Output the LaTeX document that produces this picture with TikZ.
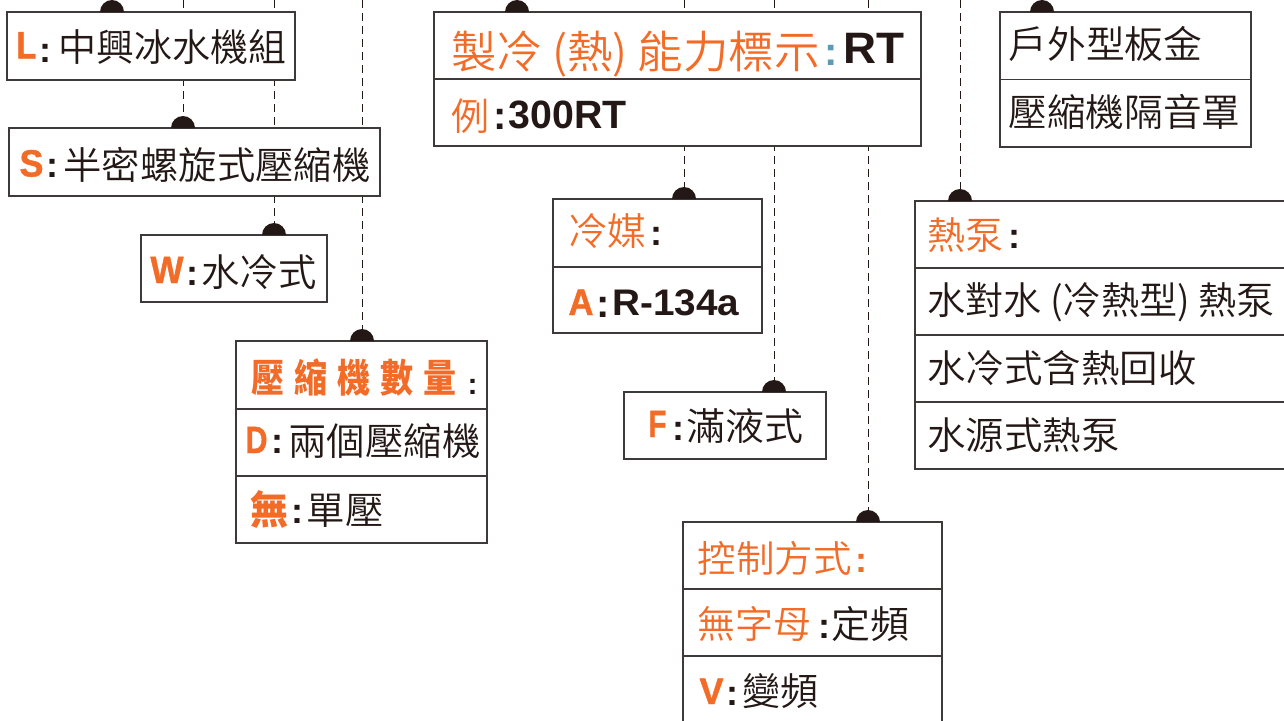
\documentclass[tikz,border=0pt]{standalone}
\usepackage{fontspec}
\usepackage{graphicx}
\usetikzlibrary{backgrounds}
\newfontfamily\cjk{Noto Sans CJK TC DemiLight}
\newfontfamily\cjkb{Noto Sans CJK TC Black}
\newfontfamily\lat{Liberation Sans}
\newfontfamily\latH{Liberation Sans Bold}[FakeBold=1.2]
\definecolor{og}{HTML}{F26B27}
\definecolor{tk}{HTML}{231815}
\definecolor{bc}{HTML}{3E3A39}
\definecolor{bl}{HTML}{5E9AB5}
\newcommand\cjkL[1]{\cjk\fontsize{#1}{#1}\selectfont}
\newcommand\cjkB[1]{\cjkb\fontsize{#1}{#1}\selectfont}
\newcommand\latB[1]{\lat\bfseries\fontsize{#1}{#1}\selectfont}
\newcommand\latK[1]{\latH\fontsize{#1}{#1}\selectfont}
% name, x1, x2, baseline, font, colour, text
\newcommand\tx[7]{%
  \pgfmathsetmacro\twid{#3-#2+3}%
  \node[anchor=base west, inner sep=0pt, outer sep=0pt, text=#6, font=#5] (#1) at (#2-1.5,#4) {\resizebox{\twid pt}{\height}{#7}};}
% name, centre x, baseline, colour, size
\newcommand\cl[5]{%
  \node[anchor=base, inner sep=0pt, outer sep=0pt, text=#4, font=\latB{#5}] (#1) at (#2,#3) {:};}
\newcommand\bch[1]{\makebox[43pt][l]{\resizebox{33pt}{\height}{#1}}}
\tikzset{
  box/.style={draw=bc, fill=white, line width=1.2pt, inner sep=0pt, outer sep=0pt},
  row/.style={draw=bc, line width=1.2pt},
  conn/.style={draw=tk, line width=1pt, dash pattern=on 8pt off 5pt},
  dotc/.style={fill=tk}
}
\newcommand\dotat[1]{\fill[dotc] (#1) ++(-12,0) arc[start angle=180, end angle=360, radius=12] -- cycle;}
\begin{document}
\begin{tikzpicture}[x=1pt,y=-1pt]
\useasboundingbox (0,0) rectangle (1284,720);
% boxes
\node[box, minimum width=288pt, minimum height=68pt] (bL) at (151,46) {};
\node[box, minimum width=371pt, minimum height=68pt] (bS) at (194.5,162) {};
\node[box, minimum width=186pt, minimum height=67pt] (bW) at (234,268.5) {};
\node[box, minimum width=251pt, minimum height=202pt] (bQ) at (361.5,442) {};
\node[box, minimum width=487pt, minimum height=134pt] (bR) at (677.5,79) {};
\node[box, minimum width=209pt, minimum height=134pt] (bM) at (657.5,266) {};
\node[box, minimum width=202pt, minimum height=67pt] (bF) at (725,425.5) {};
\node[box, minimum width=259pt, minimum height=202pt] (bC) at (812.5,623) {};
\node[box, minimum width=251pt, minimum height=135pt] (bO) at (1125.5,79.5) {};
\node[box, minimum width=377pt, minimum height=268pt] (bH) at (1103.5,335) {};
% row dividers
\draw[row] (bQ.west |- 0,409) -- (bQ.east |- 0,409);
\draw[row] (bQ.west |- 0,476) -- (bQ.east |- 0,476);
\draw[row] (bR.west) -- (bR.east);
\draw[row] (bM.west |- 0,267) -- (bM.east |- 0,267);
\draw[row] (bC.west |- 0,589) -- (bC.east |- 0,589);
\draw[row] (bC.west |- 0,656) -- (bC.east |- 0,656);
\draw[row] (bO.west) -- (bO.east);
\draw[row] (bH.west |- 0,268) -- (bH.east |- 0,268);
\draw[row] (bH.west) -- (bH.east);
\draw[row] (bH.west |- 0,402) -- (bH.east |- 0,402);
% connector top ends
\coordinate (uL) at (112,0);
\coordinate (uR) at (517,0);
\coordinate (uO) at (1042,0);
\coordinate (uS) at (183,0);
\coordinate (uW) at (274,0);
\coordinate (uQ) at (362,0);
\coordinate (uM) at (684,0);
\coordinate (uF) at (774,0);
\coordinate (uC) at (868,0);
\coordinate (uH) at (960,0);
\begin{pgfonlayer}{background}
\fill[white] (0,0) rectangle (1284,720);
\draw[conn] (uS) -- (uS |- bS.north);
\draw[conn] (uW) -- (uW |- bW.north);
\draw[conn] (uQ) -- (uQ |- bQ.north);
\draw[conn] (uM) -- (uM |- bM.north);
\draw[conn] (uF) -- (uF |- bF.north);
\draw[conn] (uC) -- (uC |- bC.north);
\draw[conn] (uH) -- (uH |- bH.north);
\end{pgfonlayer}
% dots
\dotat{uL |- bL.north}
\dotat{uR |- bR.north}
\dotat{uO |- bO.north}
\dotat{uS |- bS.north}
\dotat{uW |- bW.north}
\dotat{uQ |- bQ.north}
\dotat{uM |- bM.north}
\dotat{uF |- bF.north}
\dotat{uC |- bC.north}
\dotat{uH |- bH.north}
% texts
\tx{tL1}{18}{35}{58.3}{\latK{38}}{og}{L}
\cl{cL}{45.5}{62}{tk}{36}
\tx{tL2}{60}{285}{61}{\cjkL{38}}{tk}{中興冰水機組}
\tx{tS1}{21}{42}{176.5}{\latK{38}}{og}{S}
\cl{cS}{52.5}{177}{tk}{36}
\tx{tS2}{65}{369}{179}{\cjkL{38}}{tk}{半密螺旋式壓縮機}
\tx{tW1}{152}{182}{283}{\latK{38}}{og}{W}
\cl{cW}{192}{285}{tk}{36}
\tx{tW2}{203}{315}{286}{\cjkL{38}}{tk}{水冷式}
\node[anchor=base west, inner sep=0pt, text=og, font=\cjkB{39}] (tQ1) at (251,392)
  {\bch{壓}\bch{縮}\bch{機}\bch{數}\resizebox{33pt}{\height}{量}};
\cl{cQ}{472.5}{394}{tk}{30}
\tx{tD1}{247}{266}{453}{\latK{38}}{og}{D}
\cl{cD}{277.5}{453}{tk}{36}
\tx{tD2}{290}{479}{455.5}{\cjkL{38}}{tk}{兩個壓縮機}
\tx{tN1}{252}{287}{524}{\cjkB{39}}{og}{無}
\cl{cN}{297.5}{523}{tk}{36}
\tx{tN2}{308}{382}{524}{\cjkL{38}}{tk}{單壓}
\tx{tR1}{453}{818}{68}{\cjkL{44.6}}{og}{製冷 (熱) 能力標示}
\cl{cR}{831}{65}{bl}{40}
\tx{tR2}{845}{903}{63.3}{\latB{44}}{tk}{RT}
\tx{tE1}{453}{488}{130}{\cjkL{38}}{og}{例}
\cl{cE}{500}{129}{tk}{40}
\tx{tE2}{510}{625}{128.3}{\latB{39.5}}{tk}{300RT}
\tx{tM1}{570}{645}{245.5}{\cjkL{38}}{og}{冷媒}
\cl{cM}{656}{245}{tk}{36}
\tx{tA1}{570}{592}{315}{\latK{37}}{og}{A}
\cl{cA}{603}{317}{tk}{40}
\tx{tA2}{614}{738}{315}{\latB{37}}{tk}{R-134a}
\tx{tF1}{650}{665}{437}{\latK{38}}{og}{F}
\cl{cF}{678}{440}{tk}{36}
\tx{tF2}{688}{802}{440.5}{\cjkL{38}}{tk}{滿液式}
\tx{tC1}{699}{850}{572}{\cjkL{37}}{og}{控制方式}
\cl{cC}{861}{572}{og}{36}
\tx{tC2}{699}{810}{638.5}{\cjkL{38}}{og}{無字母}
\cl{cC2}{824.5}{638.5}{tk}{36}
\tx{tC3}{833}{908}{638.5}{\cjkL{38}}{tk}{定頻}
\tx{tV1}{701}{722}{704}{\latK{37}}{og}{V}
\cl{cV}{732.5}{705}{tk}{36}
\tx{tV2}{744}{817}{705}{\cjkL{38}}{tk}{變頻}
\tx{tO1}{1010}{1201}{58.5}{\cjkL{38}}{tk}{戶外型板金}
\tx{tO2}{1010}{1239}{126.5}{\cjkL{38}}{tk}{壓縮機隔音罩}
\tx{tH1}{929}{1002}{249}{\cjkL{38}}{og}{熱泵}
\cl{cH}{1014.5}{248}{tk}{36}
\tx{tH2}{929}{1273}{314.5}{\cjkL{38}}{tk}{水對水 (冷熱型) 熱泵}
\tx{tH3}{929}{1195}{382}{\cjkL{38}}{tk}{水冷式含熱回收}
\tx{tH4}{929}{1118}{449.5}{\cjkL{38}}{tk}{水源式熱泵}
\end{tikzpicture}
\end{document}
